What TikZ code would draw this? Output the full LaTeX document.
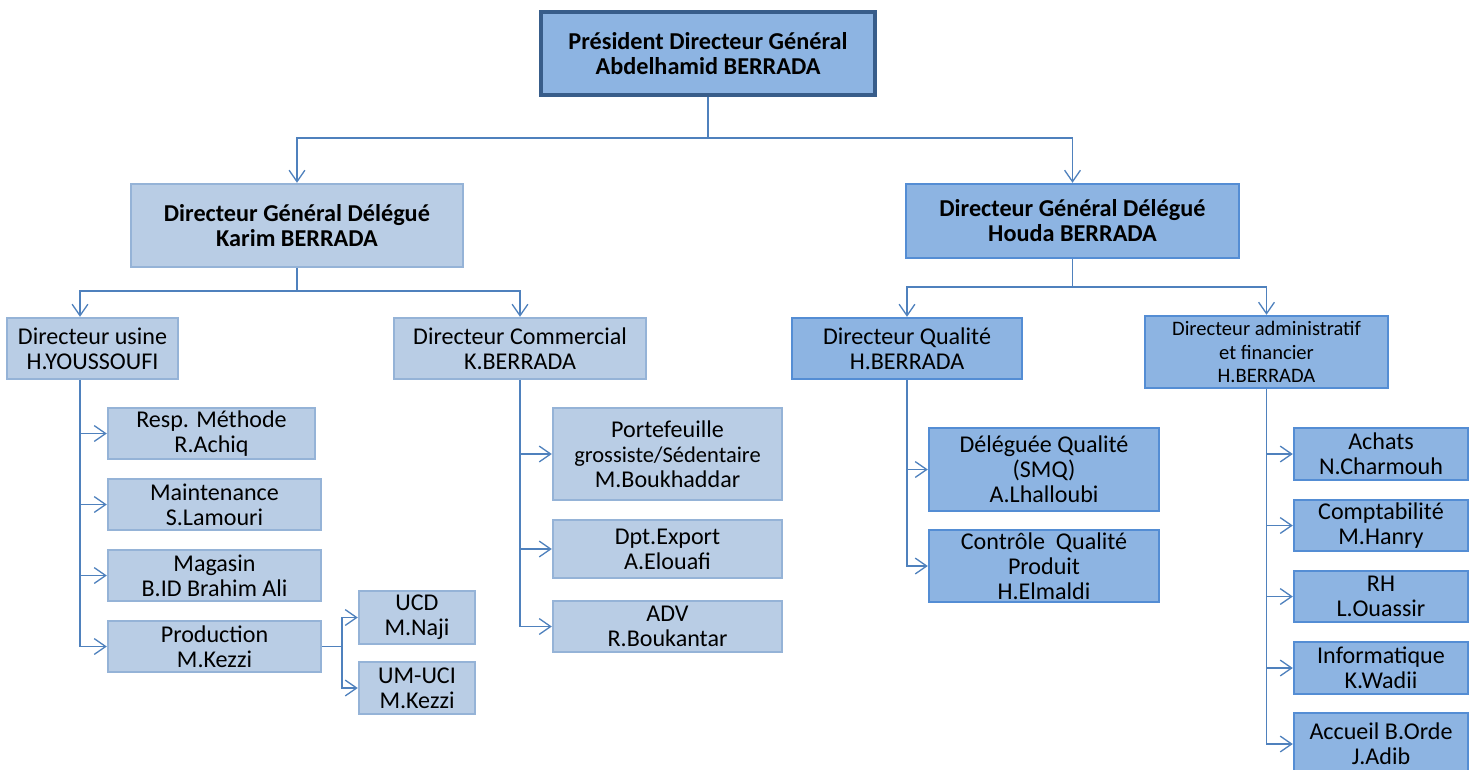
\documentclass[tikz,border=0pt]{standalone}
\usepackage{fontspec}
\setmainfont{Carlito}
\usetikzlibrary{arrows.meta}
\definecolor{palefill}{RGB}{185,205,229}
\definecolor{paleline}{RGB}{149,179,215}
\definecolor{deepfill}{RGB}{141,180,226}
\definecolor{deepline}{RGB}{84,141,212}
\definecolor{topline}{RGB}{56,93,138}
\definecolor{linkblue}{RGB}{79,129,189}

\begin{document}
\begin{tikzpicture}[x=0.02cm,y=-0.02cm,
  box/.style={rectangle,align=center,inner sep=0pt,line width=1.4pt,font=\fontsize{13.7}{14.2}\selectfont},
  pale/.style={box,fill=palefill,draw=paleline},
  deep/.style={box,fill=deepfill,draw=deepline},
  link/.style={draw=linkblue,line width=0.75pt,-{Straight Barb[length=6.5pt,width=9pt]}},
  line/.style={draw=linkblue,line width=0.75pt}]
  \useasboundingbox (0,0) rectangle (1469,769);
  % top
  \node[box,fill=deepfill,draw=topline,line width=2pt,font=\bfseries\fontsize{13.8}{14.2}\selectfont,
        minimum width=6.68cm,minimum height=1.66cm] (pdg) at (708,53.5)
        {Président Directeur Général\\Abdelhamid BERRADA};
  \node[pale,font=\bfseries\fontsize{13.8}{14.2}\selectfont,minimum width=6.64cm,minimum height=1.66cm]
        (karim) at (297,225.5) {Directeur Général Délégué\\Karim BERRADA};
  \node[deep,font=\bfseries\fontsize{13.8}{14.2}\selectfont,minimum width=6.66cm,minimum height=1.48cm]
        (houda) at (1072.5,221) {Directeur Général Délégué\\Houda BERRADA};
  % directeurs
  \node[pale,minimum width=3.42cm,minimum height=1.22cm] (usine) at (92.5,348.5) {Directeur usine\\H.YOUSSOUFI};
  \node[pale,minimum width=5.04cm,minimum height=1.22cm] (commercial) at (520,348.5) {Directeur Commercial\\K.BERRADA};
  \node[deep,minimum width=4.6cm,minimum height=1.22cm] (qualite) at (907,348.5) {Directeur Qualité\\H.BERRADA};
  \node[deep,font=\fontsize{11.7}{13.6}\selectfont,minimum width=4.86cm,minimum height=1.44cm] (admin) at (1266.5,352)
        {Directeur administratif\\et financier\\H.BERRADA};
  % usine
  \node[pale,minimum width=4.14cm,minimum height=1.02cm] (methode) at (211.5,433.5) {Resp. Méthode\\R.Achiq};
  \node[pale,minimum width=4.26cm,minimum height=1.02cm] (maintenance) at (214.5,504.5) {Maintenance\\S.Lamouri};
  \node[pale,minimum width=4.26cm,minimum height=1.02cm] (magasin) at (214.5,575.5) {Magasin\\B.ID Brahim Ali};
  \node[pale,minimum width=4.26cm,minimum height=1.02cm] (production) at (214.5,646.5) {Production\\M.Kezzi};
  \node[pale,minimum width=2.32cm,minimum height=1.06cm] (ucd) at (417,617.5) {UCD\\M.Naji};
  \node[pale,minimum width=2.32cm,minimum height=1.04cm] (umuci) at (417,688) {UM-UCI\\M.Kezzi};
  % commercial
  \node[pale,minimum width=4.58cm,minimum height=1.84cm] (portefeuille) at (667.5,454)
        {Portefeuille\\{\fontsize{12.8}{14.2}\selectfont grossiste/Sédentaire}\\M.Boukhaddar};
  \node[pale,minimum width=4.58cm,minimum height=1.16cm] (export) at (667.5,549) {Dpt.Export\\A.Elouafi};
  \node[pale,minimum width=4.58cm,minimum height=1.02cm] (adv) at (667.5,626.5) {ADV\\R.Boukantar};
  % qualite
  \node[deep,minimum width=4.6cm,minimum height=1.66cm] (deleguee) at (1044,469.5) {Déléguée Qualité\\(SMQ)\\A.Lhalloubi};
  \node[deep,minimum width=4.6cm,minimum height=1.44cm] (controle) at (1044,566) {Contrôle~~Qualité\\Produit\\H.Elmaldi};
  % admin
  \node[deep,minimum width=3.48cm,minimum height=1.04cm] (achats) at (1381,454) {Achats\\N.Charmouh};
  \node[deep,minimum width=3.48cm,minimum height=1.02cm] (compta) at (1381,525.5) {Comptabilité\\M.Hanry};
  \node[deep,minimum width=3.48cm,minimum height=1.02cm] (rh) at (1381,596.5) {RH\\L.Ouassir};
  \node[deep,minimum width=3.48cm,minimum height=1.04cm] (info) at (1381,668) {Informatique\\K.Wadii};
  \node[deep,minimum width=3.48cm,minimum height=1.24cm] (accueil) at (1381,744) {Accueil B.Orde\\J.Adib};

  % forks
  \coordinate (topfork) at (708,138);
  \coordinate (karimfork) at (297,291);
  \coordinate (houdafork) at (1072.5,287);
  \coordinate (prodfork) at (342,646.5);
  \draw[line] (pdg.south) -- (topfork);
  \draw[link] (topfork) -| (karim.north);
  \draw[link] (topfork) -| (houda.north);
  \draw[line] (karim.south) -- (karimfork);
  \draw[link] (karimfork) -| ([xshift=-0.25cm]usine.north);
  \draw[link] (karimfork) -| (commercial.north);
  \draw[line] (houda.south) -- (houdafork);
  \draw[link] (houdafork) -| (qualite.north);
  \draw[link] (houdafork) -| (admin.north);
  % usine
  \draw[link] ([xshift=-0.25cm]usine.south) |- (methode.west);
  \draw[link] ([xshift=-0.25cm]usine.south) |- (maintenance.west);
  \draw[link] ([xshift=-0.25cm]usine.south) |- (magasin.west);
  \draw[link] ([xshift=-0.25cm]usine.south) |- (production.west);
  \draw[line] (production.east) -- (prodfork);
  \draw[link] (prodfork) |- (ucd.west);
  \draw[link] (prodfork) |- (umuci.west);
  % commercial
  \draw[link] (commercial.south) |- (portefeuille.west);
  \draw[link] (commercial.south) |- (export.west);
  \draw[link] (commercial.south) |- (adv.west);
  % qualite
  \draw[link] (qualite.south) |- (deleguee.west);
  \draw[link] (qualite.south) |- (controle.west);
  % admin
  \draw[link] (admin.south) |- (achats.west);
  \draw[link] (admin.south) |- (compta.west);
  \draw[link] (admin.south) |- (rh.west);
  \draw[link] (admin.south) |- (info.west);
  \draw[link] (admin.south) |- (accueil.west);
\end{tikzpicture}
\end{document}
